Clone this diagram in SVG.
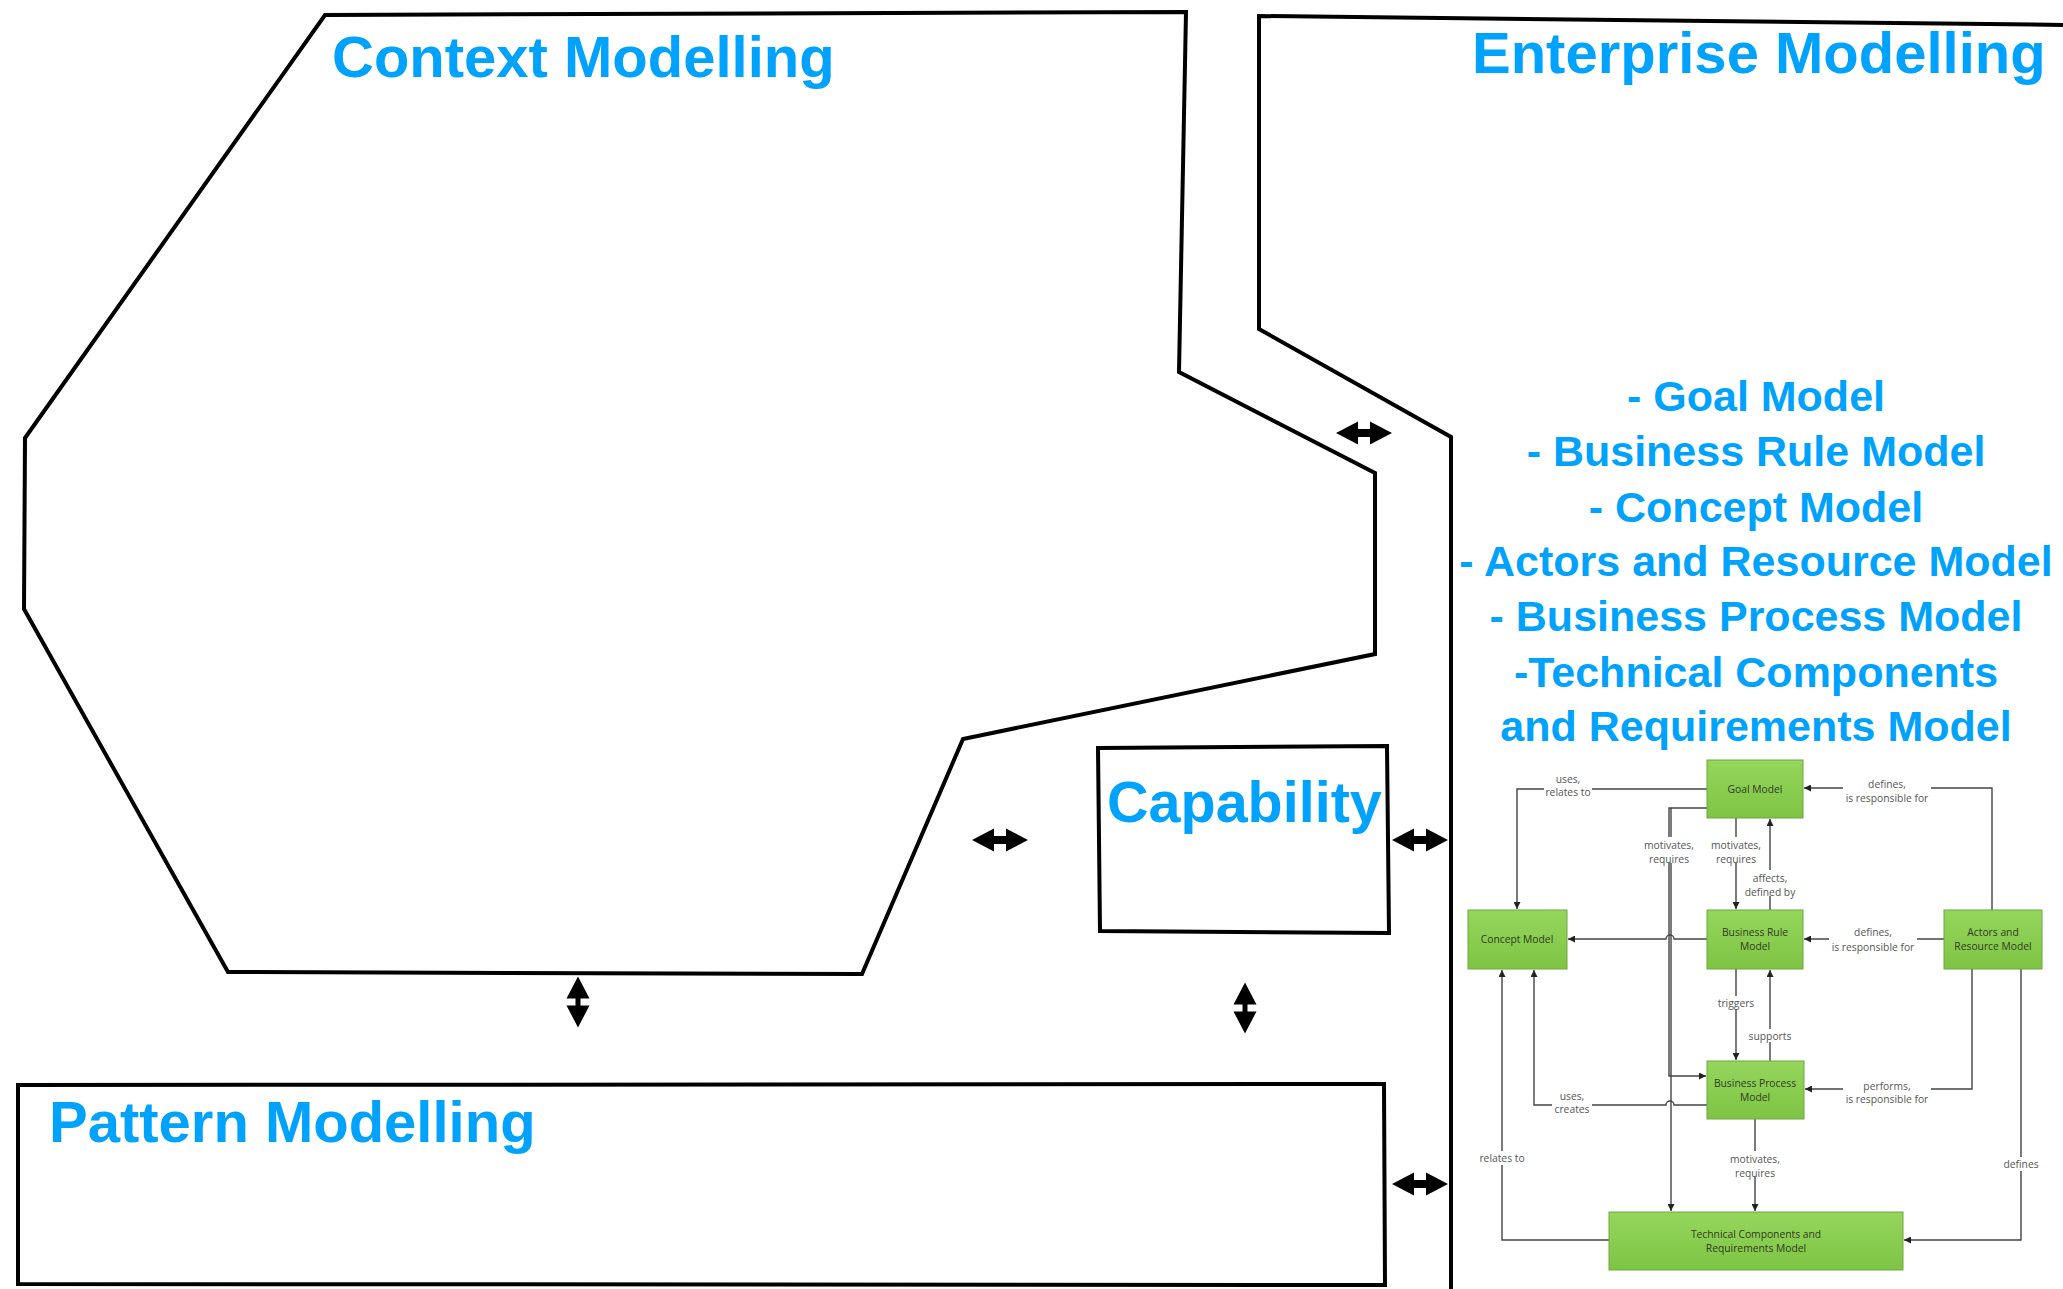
<svg xmlns="http://www.w3.org/2000/svg" width="2063" height="1289" viewBox="0 0 2063 1289">
<style>
.frame{fill:none;stroke:#000;stroke-width:4;stroke-linejoin:miter}
.title{font-family:"Liberation Sans",Arial,sans-serif;font-weight:bold;fill:#00A2FF}
.big{font-size:58px}
.list{font-size:43px;text-anchor:middle}
.box{fill:url(#g);stroke:#6FA83E;stroke-width:1}
.bt{font-family:"Open Sans","Liberation Sans",sans-serif;font-size:10.3px;fill:#2f3a25;text-anchor:middle}
.lt{font-family:"Open Sans","Liberation Sans",sans-serif;font-size:10.3px;fill:#555;text-anchor:middle}
.c{fill:none;stroke:#444;stroke-width:1.4}
.ca{fill:none;stroke:#444;stroke-width:1.4;marker-end:url(#ah)}
.lb{fill:#fff}
</style>
<defs>
<linearGradient id="g" x1="0" y1="0" x2="0" y2="1">
<stop offset="0" stop-color="#95D65C"/>
<stop offset="1" stop-color="#7EC444"/>
</linearGradient>
<marker id="ah" viewBox="0 0 10 10" refX="10" refY="5" markerWidth="7" markerHeight="7" markerUnits="userSpaceOnUse" orient="auto">
<path d="M0,0 L10,5 L0,10 z" fill="#222"/>
</marker>
<polygon id="dh" points="-28,0 -6,-11.5 -6,-4 6,-4 6,-11.5 28,0 6,11.5 6,4 -6,4 -6,11.5" fill="#000"/>
<polygon id="dv" points="0,-25.5 11.5,-3.5 2.5,-3.5 2.5,3.5 11.5,3.5 0,25.5 -11.5,3.5 -2.5,3.5 -2.5,-3.5 -11.5,-3.5" fill="#000"/>
</defs>
<rect width="2063" height="1289" fill="#fff"/>

<g id="context">
<polygon class="frame" points="325,15 1186,12 1179,372 1375,473 1375,654 963,739 862,974 228,972 24,609 25,438"/>
<text class="title big" x="332" y="77">Context Modelling</text>
</g>

<g id="enterprise">
<polyline class="frame" points="2070,25 1259,16 1259,329 1451,437 1451,1295"/>
<text class="title big" x="1472" y="73">Enterprise Modelling</text>
<text class="title list" x="1756" y="411">- Goal Model</text>
<text class="title list" x="1756" y="466">- Business Rule Model</text>
<text class="title list" x="1756" y="522">- Concept Model</text>
<text class="title list" x="1756" y="576">- Actors and Resource Model</text>
<text class="title list" x="1756" y="631">- Business Process Model</text>
<text class="title list" x="1756" y="687">-Technical Components</text>
<text class="title list" x="1756" y="741">and Requirements Model</text>
</g>

<g id="capability">
<polygon class="frame" points="1098,748 1387,746 1389,933 1100,931"/>
<text class="title" font-size="57.5" x="1107" y="822">Capability</text>
</g>

<g id="pattern">
<polygon class="frame" points="18,1085 1384,1084 1385,1285 18,1284"/>
<text class="title big" x="49" y="1142">Pattern Modelling</text>
</g>

<g id="connectors">
<use href="#dh" x="1364" y="433"/>
<use href="#dh" x="1000" y="840"/>
<use href="#dh" x="1420" y="840"/>
<use href="#dh" x="1420" y="1184"/>
<use href="#dv" x="578" y="1002"/>
<use href="#dv" x="1245" y="1008"/>
</g>

<g id="em-connectors">
<path class="ca" d="M1707,789 H1517 V909"/>
<path class="ca" d="M1707,808 H1669 V1076 H1706"/>
<path class="ca" d="M1671,808 V1211"/>
<path class="ca" d="M1736,818 V909"/>
<path class="ca" d="M1770,910 V819"/>
<path class="ca" d="M1992,910 V788 H1804"/>
<path class="ca" d="M1944,939 H1804"/>
<path class="ca" d="M1707,939 H1674 a4,4 0 0 0 -8,0 H1568"/>
<path class="ca" d="M1736,969 V1060"/>
<path class="ca" d="M1770,1061 V970"/>
<path class="ca" d="M1707,1105 H1674 a4,4 0 0 0 -8,0 H1534 V970"/>
<path class="ca" d="M1609,1240 H1502 V970"/>
<path class="ca" d="M1755,1119 V1211"/>
<path class="ca" d="M1972,969 V1089 H1805"/>
<path class="ca" d="M2021,969 V1240 H1904"/>
<rect class="lb" x="1544" y="772" width="48" height="25"/>
<rect class="lb" x="1643" y="837" width="52" height="26"/>
<rect class="lb" x="1710" y="837" width="52" height="26"/>
<rect class="lb" x="1743" y="870" width="54" height="26"/>
<rect class="lb" x="1843" y="776" width="88" height="26"/>
<rect class="lb" x="1829" y="924" width="88" height="27"/>
<rect class="lb" x="1716" y="996" width="40" height="13"/>
<rect class="lb" x="1748" y="1029" width="44" height="13"/>
<rect class="lb" x="1552" y="1088" width="40" height="26"/>
<rect class="lb" x="1478" y="1151" width="48" height="14"/>
<rect class="lb" x="1729" y="1151" width="52" height="26"/>
<rect class="lb" x="1843" y="1078" width="88" height="26"/>
<rect class="lb" x="2003" y="1157" width="36" height="14"/>
<text class="lt" x="1568" y="783">uses,</text>
<text class="lt" x="1568" y="796">relates to</text>
<text class="lt" x="1669" y="849">motivates,</text>
<text class="lt" x="1669" y="863">requires</text>
<text class="lt" x="1736" y="849">motivates,</text>
<text class="lt" x="1736" y="863">requires</text>
<text class="lt" x="1770" y="882">affects,</text>
<text class="lt" x="1770" y="896">defined by</text>
<text class="lt" x="1887" y="788">defines,</text>
<text class="lt" x="1887" y="802">is responsible for</text>
<text class="lt" x="1873" y="936">defines,</text>
<text class="lt" x="1873" y="951">is responsible for</text>
<text class="lt" x="1736" y="1007">triggers</text>
<text class="lt" x="1770" y="1040">supports</text>
<text class="lt" x="1572" y="1100">uses,</text>
<text class="lt" x="1572" y="1113">creates</text>
<text class="lt" x="1502" y="1162">relates to</text>
<text class="lt" x="1755" y="1163">motivates,</text>
<text class="lt" x="1755" y="1177">requires</text>
<text class="lt" x="1887" y="1090">performs,</text>
<text class="lt" x="1887" y="1103">is responsible for</text>
<text class="lt" x="2021" y="1168">defines</text>
</g>

<g id="goal-model">
<rect class="box" x="1707" y="760" width="96" height="58"/>
<text class="bt" x="1755" y="793">Goal Model</text>
</g>
<g id="concept-model">
<rect class="box" x="1468" y="910" width="99" height="59"/>
<text class="bt" x="1517" y="943">Concept Model</text>
</g>
<g id="business-rule-model">
<rect class="box" x="1707" y="910" width="96" height="59"/>
<text class="bt" x="1755" y="936">Business Rule</text>
<text class="bt" x="1755" y="950">Model</text>
</g>
<g id="actors-resource-model">
<rect class="box" x="1944" y="910" width="98" height="59"/>
<text class="bt" x="1993" y="936">Actors and</text>
<text class="bt" x="1993" y="950">Resource Model</text>
</g>
<g id="business-process-model">
<rect class="box" x="1707" y="1061" width="97" height="58"/>
<text class="bt" x="1755" y="1087">Business Process</text>
<text class="bt" x="1755" y="1101">Model</text>
</g>
<g id="technical-components-model">
<rect class="box" x="1609" y="1212" width="294" height="58"/>
<text class="bt" x="1756" y="1238">Technical Components and</text>
<text class="bt" x="1756" y="1252">Requirements Model</text>
</g>
</svg>
